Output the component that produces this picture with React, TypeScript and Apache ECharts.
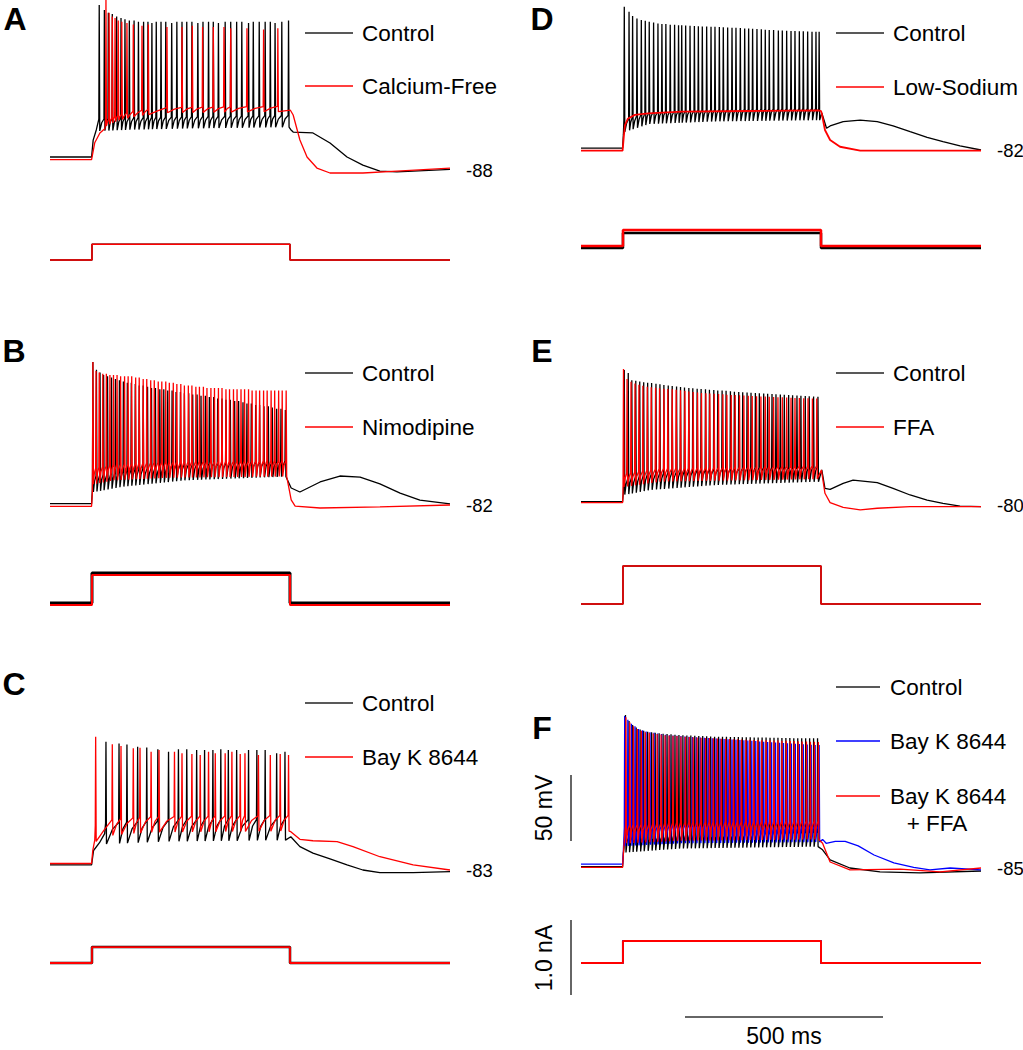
import React, { useEffect, useRef } from "react";
import * as echarts from "echarts";

const FONT = '"Liberation Sans", Arial, Helvetica, sans-serif';
const BLACK = "#000000";
const RED = "#ff0000";
const BLUE = "#0000ff";

const T_MAX = 1010;
const STEP_ON = 106;
const STEP_OFF = 606;

// ---------- Panel A : Control vs Calcium-Free ----------
const aCtrlPre = [[0, -78], [105, -78], [109, -65], [117, -57]];
const aCtrlTimes = [124, 137, 147, 157, 168, 179, 189, 200, 212, 223, 236, 247, 257, 268, 280, 292, 307, 320, 333, 345, 358, 373, 386, 400, 412, 425, 442, 456, 471, 484, 501, 513, 528, 543, 556, 568, 585, 602];
const aCtrlPeaks = [39, 35, 33, 32, 30, 29, 28, 27, 27, 26, 26, 26, 25, 26, 26, 26, 25, 26, 26, 26, 26, 25, 26, 26, 26, 25, 26, 26, 26, 26, 25, 26, 26, 26, 26, 25, 26, 27];
const aCtrlTroughs = [[120, -58], [200, -57], [350, -56], [606, -55]];
const aCtrlRise = 9;
const aCtrlPost = [[608, -57], [614, -58.8], [664, -59.5], [707, -67.2], [750, -78], [790, -84.2], [833, -88.8], [876, -89.5], [917, -88.8], [1010, -87.5]];

const aCaPre = [[0, -80], [105, -80], [113, -67], [126, -59.5], [139, -56]];
const aCaTimes = [141, 149, 157, 164, 172, 181, 194, 210, 232, 248, 295, 333, 359, 385, 412, 439, 456, 497, 539, 575];
const aCaPeaks = [43, 33, 30, 29, 27, 26, 25, 24, 23, 24, 22, 22, 23, 22, 22, 22, 21, 21, 20, 21];
const aCaTroughs = [[141, -54], [170, -50], [210, -47], [280, -44], [606, -43]];
const aCaRise = 4;
const aCaPost = [[607, -42], [614, -45.7], [631, -64.9], [649, -78], [674, -86.5], [707, -90.3], [790, -90.3], [876, -88.8], [1010, -86.5]];

const aICtrl = [0, 0.21];
const aICa = [0, 0.21];

// ---------- Panel B : Control vs Nimodipine ----------
const bCtrlPre = [[0, -81], [105, -81], [107, -70]];
const bCtrlTimes = [108, 117, 126, 135, 145, 155, 165, 175, 185, 195, 205, 215, 225, 235, 246, 256, 266, 277, 287, 297, 308, 318, 329, 339, 350, 360, 371, 381, 392, 402, 413, 423, 434, 444, 455, 466, 476, 487, 497, 508, 519, 529, 540, 551, 561, 572, 583, 594];
const bCtrlPeaks = [28, 22, 20, 18, 17, 16, 15, 14, 13, 12, 12, 11, 10, 10, 9, 8, 8, 7, 7, 6, 6, 5, 5, 4, 4, 3, 3, 2, 2, 1, 1, 0, 0, -1, -1, -2, -2, -3, -4, -4, -5, -5, -6, -6, -7, -8, -8, -9];
const bCtrlTroughs = [[110, -72], [180, -68], [340, -63], [606, -60]];
const bCtrlRise = 12;
const bCtrlPost = [[609, -68.9], [631, -72], [682, -64.3], [732, -59.7], [783, -60.5], [833, -65.8], [884, -72.8], [934, -78.2], [1010, -81.2]];

const bNimoPre = [[0, -83], [105, -83], [107, -72]];
const bNimoTimes = [108, 116, 124, 133, 142, 151, 160, 169, 178, 188, 197, 206, 216, 225, 235, 244, 254, 263, 273, 282, 292, 301, 311, 320, 330, 339, 349, 358, 368, 377, 387, 396, 406, 415, 425, 434, 444, 453, 463, 472, 482, 491, 501, 510, 520, 529, 539, 548, 558, 567, 577, 586, 596];
const bNimoPeaks = [28, 21, 20, 19, 19, 18, 18, 18, 17, 17, 17, 17, 16, 16, 15, 15, 14, 14, 13, 13, 13, 12, 12, 11, 11, 10, 10, 10, 9, 9, 9, 8, 8, 8, 8, 8, 7, 7, 7, 7, 7, 7, 7, 6, 6, 6, 6, 6, 6, 6, 6, 6, 6];
const bNimoTroughs = [[110, -66], [160, -63], [300, -61], [606, -60]];
const bNimoRise = 12;
const bNimoPost = [[609, -78], [619, -82.8], [682, -84.3], [833, -83.5], [1010, -82]];

const bICtrl = [0.027, 0.427];
const bINimo = [0, 0.4];

// ---------- Panel C : Control vs Bay K 8644 ----------
const cCtrlPre = [[0, -79], [105, -79], [110, -68], [125, -62], [138, -55]];
const cCtrlTimes = [141, 174, 194, 221, 244, 272, 299, 324, 345, 370, 390, 411, 431, 450, 471, 501, 522, 543, 572, 593];
const cCtrlPeaks = [15.7, 14.4, 13.6, 11.8, 11.3, 9.8, 8, 9.8, 9.8, 9.3, 9.3, 9.3, 9.8, 9.3, 9.3, 9.3, 9.3, 9.3, 6.8, 8];
const cCtrlTroughs = [[140, -63], [300, -61], [606, -60]];
const cCtrlRise = 16;
const cCtrlPost = [[608, -57.4], [631, -65], [664, -70], [707, -74.5], [750, -79], [790, -83], [833, -85], [917, -85], [1010, -84.3]];

const cBayPre = [[0, -78], [105, -78], [108, -68], [113, -60]];
const cBayTimes = [115, 157, 179, 210, 227, 255, 275, 314, 333, 358, 379, 400, 417, 442, 459, 480, 492, 526, 556, 581, 602];
const cBayPeaks = [19.5, 13.7, 12.4, 10.6, 11.1, 8, 9.3, 8, 6.8, 6.2, 5.5, 8, 6.8, 6.8, 8, 6.2, 6.8, 5.5, 5.5, 6.2, 5.5];
const cBayTroughs = [[120, -61], [160, -56], [250, -54], [606, -53]];
const cBayRise = 12;
const cBayPost = [[608, -53.5], [631, -59.4], [664, -60.5], [725, -61.2], [765, -65], [833, -72.8], [917, -79], [1010, -83]];

const cICtrl = [0, 0.213];
const cIBay = [0, 0.213];

// ---------- Panel D : Control vs Low-Sodium ----------
const dCtrlPre = [[0, -80.5], [105, -80.5], [107, -70]];
const dCtrlTimes = [109, 121, 130, 141, 152, 162, 172, 183, 194, 204, 214, 225, 236, 246, 254, 264, 275, 286, 296, 306, 317, 328, 338, 349, 359, 370, 381, 391, 402, 413, 423, 433, 444, 455, 465, 475, 486, 498, 508, 519, 530, 540, 551, 561, 572, 583, 593, 601];
const dCtrlPeaks = [28.2, 24.4, 21, 19.2, 18, 17.5, 16.7, 16, 15.4, 15, 15, 14.4, 14.4, 14, 14, 13.8, 13.6, 13.4, 13.2, 13, 13, 12.8, 12.8, 12.6, 12.4, 12.2, 12, 12, 11.8, 11.5, 11.5, 11.2, 11, 10.8, 10.5, 10.3, 10.3, 10, 10, 9.8, 9.6, 9.5, 9.4, 9.3, 9.2, 9, 9, 9];
const dCtrlTroughs = [[110, -68], [170, -62], [340, -60], [606, -59]];
const dCtrlRise = 9;
const dCtrlPost = [[608, -53.5], [620, -65.3], [629, -63.5], [662, -60.2], [705, -59], [748, -60.2], [788, -63.5], [831, -67.9], [874, -72.2], [914, -75.6], [957, -78.9], [1010, -82]];

const dLowNa = [[0, -82.5], [105, -82.5], [108, -72], [111, -63], [118, -58], [136, -55], [170, -53.8], [254, -52.5], [422, -52], [600, -51.5], [606, -52], [608, -54], [616, -66.6], [629, -74.3], [654, -79.5], [705, -82.5], [1010, -82.5]];

const dICtrl = [-0.027, 0.173];
const dILow = [0, 0.213];

// ---------- Panel E : Control vs FFA ----------
const eCtrlPre = [[0, -77.5], [105, -77.5], [107, -70]];
const eCtrlTimes = [109, 119, 128, 138, 148, 158, 168, 178, 189, 199, 209, 220, 230, 241, 251, 261, 272, 282, 293, 303, 314, 324, 335, 345, 356, 366, 377, 387, 398, 408, 419, 429, 440, 450, 461, 471, 482, 492, 503, 513, 524, 534, 545, 555, 566, 576, 587, 598];
const eCtrlPeaks = [23.8, 21.5, 16, 15.5, 15, 14.5, 14, 13.8, 13.3, 12.8, 12.4, 12, 11.6, 11.2, 10.8, 10.4, 10, 9.8, 9.5, 9.2, 9, 8.7, 8.4, 8.1, 8, 7.8, 7.5, 7.2, 7, 6.8, 6.6, 6.4, 6.2, 6, 5.8, 5.6, 5.4, 5.2, 5, 4.8, 4.6, 4.4, 4.2, 4, 3.8, 3.6, 3.4, 3.3];
const eCtrlTroughs = [[112, -72], [172, -68.5], [340, -64.6], [606, -62]];
const eCtrlRise = 12;
const eCtrlPost = [[608, -53], [616, -67.2], [629, -68], [662, -63.3], [687, -60.8], [748, -62.8], [788, -67.2], [831, -72.3], [874, -76.2], [914, -78.7], [957, -80.8], [1010, -81.3]];

const eFfaPre = [[0, -78.2], [105, -78.2], [106, -72]];
const eFfaTimes = [107, 116, 126, 136, 146, 156, 167, 177, 188, 198, 209, 219, 230, 240, 251, 262, 272, 283, 294, 304, 315, 325, 336, 347, 358, 368, 379, 389, 400, 411, 422, 432, 443, 454, 465, 475, 486, 497, 508, 519, 530, 540, 551, 562, 573, 584, 595];
const eFfaPeaks = [24.6, 17, 14.8, 13.5, 12.5, 11.8, 11, 10.6, 10.2, 9.8, 9.5, 9.2, 9, 8.6, 8.2, 7.8, 7.4, 7, 6.6, 6.2, 5.9, 5.7, 5.5, 5.3, 5.1, 4.9, 4.7, 4.6, 4.4, 4.2, 4, 3.8, 3.6, 3.5, 3.4, 3.3, 3.1, 2.9, 2.8, 2.6, 2.5, 2.4, 2.3, 2.2, 2.1, 2, 2];
const eFfaTroughs = [[110, -66], [200, -62], [606, -60]];
const eFfaRise = 10;
const eFfaPost = [[607, -53], [616, -71], [629, -78.2], [662, -81.8], [705, -83.8], [748, -82.5], [831, -81.3], [1010, -81.3]];

const eICtrl = [0, 0.507];
const eIFfa = [0, 0.507];

// ---------- Panel F : Control vs Bay K 8644 vs Bay K 8644 + FFA ----------
const fCtrlPre = [[0, -84], [105, -84], [107, -74]];
const fCtrlTimes = [112, 121, 130, 139, 149, 158, 168, 178, 187, 197, 207, 217, 227, 237, 247, 257, 267, 277, 287, 297, 307, 317, 327, 337, 347, 357, 367, 377, 387, 397, 407, 417, 427, 437, 447, 457, 467, 477, 487, 497, 507, 517, 527, 537, 547, 557, 567, 577, 587, 597];
const fCtrlPeaks = [32.7, 28, 25, 23, 21.5, 20.5, 19.8, 19.4, 19, 18.6, 18.3, 18, 17.8, 17.5, 17.3, 17.1, 17, 16.9, 16.8, 16.6, 16.5, 16.4, 16.2, 16, 16, 16, 15.9, 15.8, 15.8, 15.7, 15.6, 15.6, 15.5, 15.4, 15.4, 15.3, 15.3, 15.2, 15.2, 15.1, 15, 15, 15, 14.9, 14.9, 14.9, 14.8, 14.8, 14.8, 14.8];
const fCtrlTroughs = [[115, -73], [250, -70], [606, -68.5]];
const fCtrlRise = 12;
const fCtrlPost = [[610, -71], [629, -78.8], [679, -85], [755, -88], [856, -88.8], [1010, -87.3]];

const fBayPre = [[0, -82], [105, -82], [107, -72]];
const fBayTimes = [110, 118, 127, 136, 145, 155, 164, 174, 184, 193, 203, 213, 223, 232, 242, 252, 262, 272, 281, 291, 301, 311, 321, 331, 341, 351, 361, 371, 381, 391, 401, 411, 421, 431, 441, 451, 461, 471, 481, 491, 501, 511, 521, 531, 541, 551, 561, 571, 581, 591, 601];
const fBayPeaks = [32, 29, 26, 24, 22, 21, 20, 19.5, 19, 18.5, 18, 17.5, 17.2, 17, 16.8, 16.5, 16.2, 16, 15.8, 15.6, 15.4, 15.2, 15, 14.8, 14.6, 14.4, 14.2, 14, 13.8, 13.6, 13.4, 13.2, 13, 12.8, 12.6, 12.4, 12.2, 12, 11.8, 11.6, 11.4, 11.2, 11, 10.8, 10.6, 10.4, 10.2, 10, 9.8, 9.7, 9.6];
const fBayTroughs = [[115, -68], [250, -66], [606, -65]];
const fBayRise = 14;
const fBayPost = [[610, -63], [619, -66], [642, -64.5], [667, -64.5], [700, -68], [740, -75], [790, -81], [840, -84.5], [881, -86.5], [932, -85], [1010, -86.5]];

const fBayFfaPre = [[0, -84.5], [105, -84.5], [107, -74]];
const fBayFfaTimes = [113, 123, 132, 142, 152, 162, 172, 182, 192, 202, 212, 222, 232, 242, 252, 263, 273, 283, 293, 303, 314, 324, 334, 344, 354, 365, 375, 385, 395, 405, 416, 426, 436, 446, 456, 467, 477, 487, 497, 507, 518, 528, 538, 548, 558, 569, 579, 589, 599];
const fBayFfaPeaks = [31, 27, 24, 22, 20.5, 19.5, 19, 18.5, 18, 17.6, 17.2, 17, 16.7, 16.5, 16.2, 16, 15.8, 15.6, 15.4, 15.2, 15, 15, 14.8, 14.6, 14.5, 14.4, 14.2, 14, 14, 13.8, 13.7, 13.6, 13.5, 13.4, 13.3, 13.2, 13.1, 13, 13, 12.9, 12.8, 12.7, 12.6, 12.5, 12.4, 12.3, 12.2, 12.1, 12];
const fBayFfaTroughs = [[115, -66], [250, -64], [606, -63]];
const fBayFfaRise = 14;
const fBayFfaPost = [[610, -66], [629, -80.4], [679, -86.5], [806, -85.8], [907, -88], [1010, -85]];

const fICtrl = [0, 0.293];
const fIBay = [0, 0.293];
const fIBayFfa = [0, 0.293];

// ---------- labels ----------
const panelLetters = ["A", "B", "C", "D", "E", "F"];
const restLabels = [-88, -82, -83, -82, -80, -85];

// ---------- helpers ----------
function interp(kp: number[][], t: number) {
  if (t <= kp[0][0]) return kp[0][1];
  for (let i = 1; i < kp.length; i++) {
    if (t <= kp[i][0]) {
      const [t0, v0] = kp[i - 1];
      const [t1, v1] = kp[i];
      return v0 + ((v1 - v0) * (t - t0)) / (t1 - t0);
    }
  }
  return kp[kp.length - 1][1];
}

function buildTrace(pre: number[][], times: number[], peaks: number[], troughs: number[][], rise: number, post: number[][]) {
  const pts: number[][] = pre.map((p) => [p[0], p[1]]);
  for (let i = 0; i < times.length; i++) {
    const t = times[i];
    const base = interp(troughs, t);
    const pk = peaks[Math.min(i, peaks.length - 1)];
    if (i > 0) {
      const tp = times[i - 1];
      const bp = interp(troughs, tp);
      pts.push([tp + (t - tp) * 0.5, bp + rise * 0.7]);
    }
    pts.push([t - 0.7, base + rise]);
    pts.push([t + 0.3, pk]);
    pts.push([t + 1.6, base]);
  }
  for (const p of post) pts.push([p[0], p[1]]);
  return pts;
}

function stepTrace(lv: number[]) {
  return [[0, lv[0]], [STEP_ON, lv[0]], [STEP_ON, lv[1]], [STEP_OFF, lv[1]], [STEP_OFF, lv[0]], [T_MAX, lv[0]]];
}

type Tr = { data: number[][]; color: string; width?: number };

const PX_PER_MV = 1.3;
const PX_PER_NA = 75;
const VW = 1.3;

const panels = [
  {
    x0: 50, yL: 170, iBase: 260,
    v: [
      { data: buildTrace(aCtrlPre, aCtrlTimes, aCtrlPeaks, aCtrlTroughs, aCtrlRise, aCtrlPost), color: BLACK },
      { data: buildTrace(aCaPre, aCaTimes, aCaPeaks, aCaTroughs, aCaRise, aCaPost), color: RED },
    ],
    i: [
      { data: stepTrace(aICtrl), color: BLACK, width: 1.5 },
      { data: stepTrace(aICa), color: RED, width: 1.5 },
    ],
  },
  {
    x0: 50, yL: 505, iBase: 605,
    v: [
      { data: buildTrace(bCtrlPre, bCtrlTimes, bCtrlPeaks, bCtrlTroughs, bCtrlRise, bCtrlPost), color: BLACK },
      { data: buildTrace(bNimoPre, bNimoTimes, bNimoPeaks, bNimoTroughs, bNimoRise, bNimoPost), color: RED },
    ],
    i: [
      { data: stepTrace(bICtrl), color: BLACK, width: 3 },
      { data: stepTrace(bINimo), color: RED, width: 2 },
    ],
  },
  {
    x0: 50, yL: 870, iBase: 963,
    v: [
      { data: buildTrace(cCtrlPre, cCtrlTimes, cCtrlPeaks, cCtrlTroughs, cCtrlRise, cCtrlPost), color: BLACK },
      { data: buildTrace(cBayPre, cBayTimes, cBayPeaks, cBayTroughs, cBayRise, cBayPost), color: RED },
    ],
    i: [
      { data: stepTrace(cICtrl), color: BLACK, width: 2.5 },
      { data: stepTrace(cIBay), color: RED, width: 1.8 },
    ],
  },
  {
    x0: 581, yL: 150, iBase: 246,
    v: [
      { data: buildTrace(dCtrlPre, dCtrlTimes, dCtrlPeaks, dCtrlTroughs, dCtrlRise, dCtrlPost), color: BLACK },
      { data: dLowNa, color: RED, width: 1.8 },
    ],
    i: [
      { data: stepTrace(dICtrl), color: BLACK, width: 2.5 },
      { data: stepTrace(dILow), color: RED, width: 2.5 },
    ],
  },
  {
    x0: 581, yL: 505, iBase: 604,
    v: [
      { data: buildTrace(eCtrlPre, eCtrlTimes, eCtrlPeaks, eCtrlTroughs, eCtrlRise, eCtrlPost), color: BLACK },
      { data: buildTrace(eFfaPre, eFfaTimes, eFfaPeaks, eFfaTroughs, eFfaRise, eFfaPost), color: RED },
    ],
    i: [
      { data: stepTrace(eICtrl), color: BLACK, width: 1.5 },
      { data: stepTrace(eIFfa), color: RED, width: 1.5 },
    ],
  },
  {
    x0: 581, yL: 868, iBase: 963,
    v: [
      { data: buildTrace(fCtrlPre, fCtrlTimes, fCtrlPeaks, fCtrlTroughs, fCtrlRise, fCtrlPost), color: BLACK },
      { data: buildTrace(fBayPre, fBayTimes, fBayPeaks, fBayTroughs, fBayRise, fBayPost), color: BLUE },
      { data: buildTrace(fBayFfaPre, fBayFfaTimes, fBayFfaPeaks, fBayFfaTroughs, fBayFfaRise, fBayFfaPost), color: RED },
    ],
    i: [
      { data: stepTrace(fICtrl), color: BLACK, width: 2 },
      { data: stepTrace(fIBay), color: BLUE, width: 2 },
      { data: stepTrace(fIBayFfa), color: RED, width: 2 },
    ],
  },
];

function buildOption() {
  const grid: any[] = [];
  const xAxis: any[] = [];
  const yAxis: any[] = [];
  const series: any[] = [];
  panels.forEach((p, k) => {
    const VL = restLabels[k];
    const gv = grid.length;
    grid.push({ left: p.x0, top: p.yL - PX_PER_MV * 100, width: 400, height: PX_PER_MV * 120 });
    xAxis.push({ type: "value", gridIndex: gv, min: 0, max: T_MAX, show: false });
    yAxis.push({ type: "value", gridIndex: gv, min: VL - 20, max: VL + 100, show: false });
    const gi = grid.length;
    grid.push({ left: p.x0, top: p.iBase - PX_PER_NA * 0.8, width: 400, height: PX_PER_NA * 1.0 });
    xAxis.push({ type: "value", gridIndex: gi, min: 0, max: T_MAX, show: false });
    yAxis.push({ type: "value", gridIndex: gi, min: -0.2, max: 0.8, show: false });
    p.v.forEach((tr: Tr) => {
      series.push({
        type: "line", xAxisIndex: gv, yAxisIndex: gv, data: tr.data, showSymbol: false, symbol: "none",
        clip: false, silent: true, lineStyle: { color: tr.color, width: tr.width || VW }, itemStyle: { color: tr.color },
      });
    });
    p.i.forEach((tr: Tr) => {
      series.push({
        type: "line", xAxisIndex: gi, yAxisIndex: gi, data: tr.data, showSymbol: false, symbol: "none",
        clip: false, silent: true, lineStyle: { color: tr.color, width: tr.width || 1.5 }, itemStyle: { color: tr.color },
      });
    });
  });

  const txt = (text: string, x: number, y: number, size: number, opts: any = {}) => ({
    type: "text", x, y, rotation: opts.rotation || 0, silent: true,
    style: {
      text, fill: "#000", font: `${opts.bold ? "bold " : ""}${size}px ${FONT}`,
      textAlign: opts.align || "left", textVerticalAlign: "middle",
    },
  });
  const seg = (x1: number, y1: number, x2: number, y2: number, color: string, w = 1.5) => ({
    type: "line", silent: true, shape: { x1, y1, x2, y2 }, style: { stroke: color, lineWidth: w },
  });

  const graphic: any[] = [];
  const letterPos = [[15, 19], [14, 351], [14, 684], [542, 19], [542, 351], [542, 728]];
  panelLetters.forEach((l, k) => graphic.push(txt(l, letterPos[k][0], letterPos[k][1], 32, { bold: true, align: "center" })));
  const restX = [466, 466, 466, 997, 997, 997];
  restLabels.forEach((v, k) => graphic.push(txt(String(v), restX[k], panels[k].yL, 18.5)));

  const LEG = 22.5;
  const legends = [
    { x1: 305, x2: 353, tx: 362, items: [["Control", 33, BLACK], ["Calcium-Free", 86, RED]] },
    { x1: 305, x2: 353, tx: 362, items: [["Control", 373, BLACK], ["Nimodipine", 427, RED]] },
    { x1: 305, x2: 353, tx: 362, items: [["Control", 703, BLACK], ["Bay K 8644", 757, RED]] },
    { x1: 836, x2: 884, tx: 893, items: [["Control", 33, BLACK], ["Low-Sodium", 87, RED]] },
    { x1: 836, x2: 884, tx: 893, items: [["Control", 373, BLACK], ["FFA", 427, RED]] },
    { x1: 836, x2: 880, tx: 890, items: [["Control", 687, BLACK], ["Bay K 8644", 741, BLUE], ["Bay K 8644", 796, RED]] },
  ];
  legends.forEach((lg) => {
    lg.items.forEach((it: any) => {
      graphic.push(seg(lg.x1, it[1], lg.x2, it[1], it[2] === BLACK ? "#222" : it[2], 1.5));
      graphic.push(txt(it[0], lg.tx, it[1], LEG));
    });
  });
  graphic.push(txt("+ FFA", 937, 823, LEG, { align: "center" }));

  // scale bars
  graphic.push(seg(571, 775, 571, 841, "#333", 1.5));
  graphic.push(txt("50 mV", 544, 808, 23, { rotation: Math.PI / 2, align: "center" }));
  graphic.push(seg(571, 920, 571, 995, "#333", 1.5));
  graphic.push(txt("1.0 nA", 544, 958, 23, { rotation: Math.PI / 2, align: "center" }));
  graphic.push(seg(685, 1017, 883, 1017, "#333", 1.5));
  graphic.push(txt("500 ms", 784, 1036, 23, { align: "center" }));

  return { animation: false, backgroundColor: "#ffffff", grid, xAxis, yAxis, series, graphic };
}

export default function App() {
  const ref = useRef<HTMLDivElement>(null);
  useEffect(() => {
    if (!ref.current) return;
    const chart = echarts.init(ref.current, undefined, { renderer: "svg" });
    chart.setOption(buildOption() as any);
    return () => chart.dispose();
  }, []);
  return <div ref={ref} style={{ position: "fixed", left: 0, top: 0, width: 1023, height: 1050, background: "#fff" }} />;
}
